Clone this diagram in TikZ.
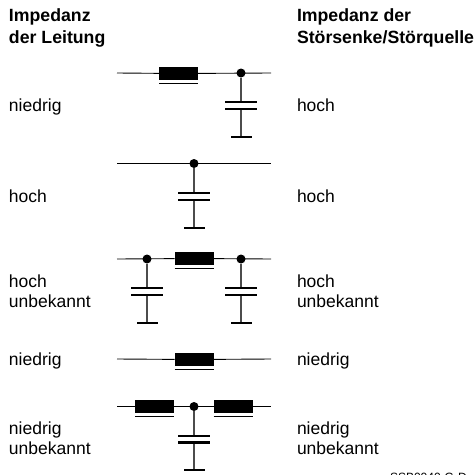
\documentclass[tikz,border=0pt]{standalone}
\usepackage{fontspec}
\setmainfont{Liberation Sans}
\usetikzlibrary{positioning,calc}

\begin{document}
\begin{tikzpicture}[
    x=1pt,
    y=-1pt,
    line join=round,
    every node/.style={inner sep=0pt, outer sep=0pt},
    label/.style={anchor=north west, align=left, font=\fontsize{17.5}{19.5}\selectfont},
    title/.style={label, font=\fontsize{17.7}{21.5}\selectfont\bfseries},
    code/.style={anchor=west, font=\fontsize{12}{14}\selectfont},
    coil/.style={draw=none, fill=black, minimum width=39pt, minimum height=13pt},
    dot/.style={circle, fill=black, minimum size=9pt},
    plate/.style={fill=black, minimum width=32pt, minimum height=2.5pt},
    earth/.style={fill=black, minimum width=21pt, minimum height=2.5pt},
    wire/.style={line width=0.9pt},
    stub/.style={line width=1.1pt, black!70}
]
\useasboundingbox (0,0) rectangle (476,474);

% Headings
\node[title] (headL) at (9,9) {Impedanz\\der Leitung};
\node[title] (headR) at (297,9) {Impedanz der\\Störsenke/Störquelle};

% Row 1
\coordinate (a1) at (117,73);
\coordinate (b1) at (271,73);
\node[coil] (coil1) at (178.5,73.5) {};
\node[dot] (dot1) at (241,73) {};
\node[plate] (capA1) at (241,102) {};
\node[plate] (capB1) at (241,109) {};
\node[earth] (gnd1) at (241,137) {};
\node[label] (left1) at (9,99) {niedrig};
\node[label] (right1) at (297,99) {hoch};
\draw[wire] (a1) -- (coil1) (coil1) -- (b1);
\draw[wire] (coil1.south west) ++(0,3.5) -- ++(39,0);
\draw[stub] (dot1) -- (capA1) (capB1) -- (gnd1);

% Row 2
\coordinate (a2) at (117,163.5);
\coordinate (b2) at (271,163.5);
\node[dot] (dot2) at (194,163.5) {};
\node[plate] (capA2) at (194,193) {};
\node[plate] (capB2) at (194,200) {};
\node[earth] (gnd2) at (194,228) {};
\node[label] (left2) at (9,190) {hoch};
\node[label] (right2) at (297,190) {hoch};
\draw[wire] (a2) -- (b2);
\draw[stub] (dot2) -- (capA2) (capB2) -- (gnd2);

% Row 3
\coordinate (a3) at (117,259);
\coordinate (b3) at (271,259);
\node[coil] (coil3) at (194,258.5) {};
\node[label] (left3) at (9,275) {hoch\\unbekannt};
\node[label] (right3) at (297,275) {hoch\\unbekannt};
\foreach \n/\x in {L/147,R/241}{
  \node[dot] (dot3\n) at (\x,259) {};
  \node[plate] (capA3\n) at (\x,288) {};
  \node[plate] (capB3\n) at (\x,295) {};
  \node[earth] (gnd3\n) at (\x,323) {};
  \draw[stub] (dot3\n) -- (capA3\n) (capB3\n) -- (gnd3\n);
}
\draw[wire] (a3) -- (coil3) (coil3) -- (b3);
\draw[wire] (coil3.south west) ++(0,3.5) -- ++(39,0);

% Row 4
\coordinate (a4) at (117,359);
\coordinate (b4) at (271,359);
\node[coil] (coil4) at (194,359.5) {};
\node[label] (left4) at (9,353) {niedrig};
\node[label] (right4) at (297,353) {niedrig};
\draw[wire] (a4) -- (coil4) (coil4) -- (b4);
\draw[wire] (coil4.south west) ++(0,3.5) -- ++(39,0);

% Row 5
\coordinate (a5) at (117,406.5);
\coordinate (b5) at (271,406.5);
\node[coil] (coil5L) at (154.5,406.5) {};
\node[coil] (coil5R) at (233,406.5) {};
\node[dot] (dot5) at (194,406.5) {};
\node[plate] (capA5) at (194,436) {};
\node[plate] (capB5) at (194,442.5) {};
\node[earth] (gnd5) at (194,470) {};
\node[label] (left5) at (9,422) {niedrig\\unbekannt};
\node[label] (right5) at (297,422) {niedrig\\unbekannt};
\draw[wire] (a5) -- (coil5L) (coil5L) -- (coil5R) (coil5R) -- (b5);
\draw[wire] (coil5L.south west) ++(0,3.5) -- ++(39,0);
\draw[wire] (coil5R.south west) ++(0,3.5) -- ++(39,0);
\draw[stub] (dot5) -- (capA5) (capB5) -- (gnd5);

% Drawing number
\node[code] (number) at (390,477) {SSB0040-G-D};

\end{tikzpicture}
\end{document}
